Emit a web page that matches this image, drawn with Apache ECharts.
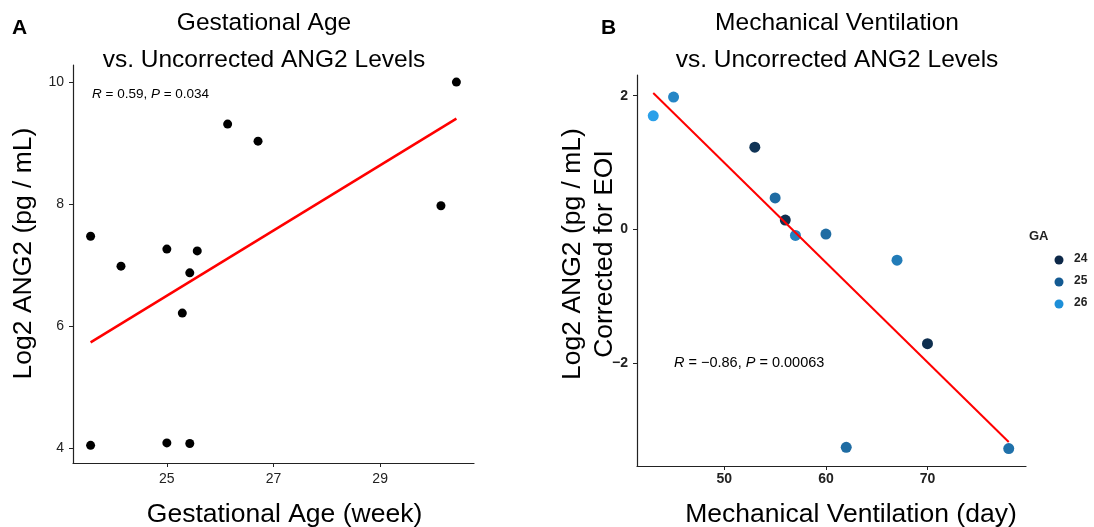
<!DOCTYPE html>
<html>
<head>
<meta charset="utf-8">
<script src="https://cdn.jsdelivr.net/npm/echarts@6/dist/echarts.min.js"></script>
<style>
  html, body { margin: 0; padding: 0; background: #fff; }
  #chart { width: 1094px; height: 527px; }
</style>
</head>
<body>
<div id="chart"></div>
<script>
// panel A: gestational age vs uncorrected ANG2
const gaWeeks = [23.57, 23.57, 24.14, 25.0, 25.0, 25.29, 25.43, 25.43, 25.57, 26.14, 26.71, 30.14, 30.43];
const ang2Log = [7.47, 4.04, 6.98, 7.26, 4.08, 6.21, 6.87, 4.07, 7.23, 9.31, 9.03, 7.97, 10.0];
const fitAX = [23.57, 30.43];
const fitAY = [5.73, 9.40];
const ticksAX = [25, 27, 29];
const ticksAY = [4, 6, 8, 10];

// panel B: mechanical ventilation vs corrected ANG2, coloured by GA
const mvDays = [43, 45, 53, 55, 56, 57, 60, 62, 67, 70, 78];
const ang2Corr = [1.70, 1.98, 1.23, 0.47, 0.14, -0.09, -0.07, -3.26, -0.46, -1.71, -3.28];
const gaGroup = [26.1, 25.6, 24.0, 25.1, 23.9, 25.5, 25.1, 25.1, 25.4, 23.9, 25.2];
const fitBX = [43, 78];
const fitBY = [2.04, -3.18];
const ticksBX = [50, 60, 70];
const ticksBY = [-2, 0, 2];
const legendGA = ['24', '25', '26'];

const FONT = '"Liberation Sans", Arial, sans-serif';
const gaColors = ['#0a1a33', '#2eaaf7'];
const legendColors = ['#0d2848', '#135a92', '#1d8fd8'];

const chart = echarts.init(document.getElementById('chart'));

function minus(v) {
    return v < 0 ? '\u2212' + Math.abs(v) : String(v);
}

function axisCommon(ticks, bold, labelMargin, namePad) {
    return {
        axisLine: { show: true, onZero: false, lineStyle: { color: '#222', width: 1.2 } },
        axisTick: { show: true, length: 4, customValues: ticks, lineStyle: { color: '#222', width: 1 } },
        axisLabel: {
            customValues: ticks, fontSize: 14, color: '#222', fontFamily: FONT, margin: labelMargin,
            fontWeight: bold ? 'bold' : 'normal', formatter: minus
        },
        splitLine: { show: false },
        nameLocation: 'middle',
        nameMoveOverlap: false,
        nameTextStyle: { fontSize: 26.5, color: '#000', fontFamily: FONT, lineHeight: 32, padding: namePad }
    };
}

function anno(size) {
    return {
        fontSize: size, fill: '#000', fontFamily: FONT,
        rich: { i: { fontStyle: 'italic', fontSize: size, fontFamily: FONT } }
    };
}

const legendItems = [];
legendItems.push({ type: 'text', x: 1029, y: 230, style: { text: 'GA', fontSize: 13, fontWeight: 'bold', fill: '#222', fontFamily: FONT } });
legendGA.forEach(function (lbl, i) {
    const cy = 260 + i * 22;
    legendItems.push({ type: 'circle', shape: { cx: 1059, cy: cy, r: 4.5 }, style: { fill: legendColors[i] } });
    legendItems.push({ type: 'text', x: 1074, y: cy - 7, style: { text: lbl, fontSize: 12, fontWeight: 'bold', fill: '#222', fontFamily: FONT } });
});

const titleStyle = { fontSize: 24.5, fontWeight: 'normal', color: '#000', lineHeight: 37, fontFamily: FONT };

const option = {
    animation: false,
    backgroundColor: '#fff',
    title: [
        {
            text: 'Gestational Age\nvs. Uncorrected ANG2 Levels',
            left: 264, top: 5, textAlign: 'center', padding: 0, textStyle: titleStyle
        },
        {
            text: 'Mechanical Ventilation\nvs. Uncorrected ANG2 Levels',
            left: 837, top: 5, textAlign: 'center', padding: 0, textStyle: titleStyle
        }
    ],
    grid: [
        { left: 73, top: 65, width: 401, height: 398, outerBoundsMode: 'none', containLabel: false },
        { left: 637, top: 75, width: 389, height: 391, outerBoundsMode: 'none', containLabel: false }
    ],
    visualMap: {
        show: false,
        type: 'continuous',
        seriesIndex: 2,
        dimension: 2,
        min: 23.5,
        max: 26.3,
        inRange: { color: gaColors }
    },
    xAxis: [
        Object.assign(axisCommon(ticksAX, false, 9, [0, 0, 0, 22]), {
            type: 'value', gridIndex: 0, min: 23.24, max: 30.76,
            name: 'Gestational Age (week)', nameGap: 36
        }),
        Object.assign(axisCommon(ticksBX, true, 6, [0, 0, 0, 39]), {
            type: 'value', gridIndex: 1, min: 41.4, max: 79.7,
            name: 'Mechanical Ventilation (day)', nameGap: 33
        })
    ],
    yAxis: [
        Object.assign(axisCommon(ticksAY, false, 9, [0, 0, 0, 21]), {
            type: 'value', gridIndex: 0, min: 3.75, max: 10.28,
            name: 'Log2 ANG2 (pg / mL)', nameGap: 33.5
        }),
        Object.assign(axisCommon(ticksBY, true, 9, [0, 0, 0, 33]), {
            type: 'value', gridIndex: 1, min: -3.54, max: 2.31,
            name: 'Log2 ANG2 (pg / mL)\nCorrected for EOI', nameGap: 16
        })
    ],
    series: [
        {
            type: 'scatter', xAxisIndex: 0, yAxisIndex: 0,
            symbolSize: 9, itemStyle: { color: '#000', opacity: 1 },
            data: gaWeeks.map(function (x, i) { return [x, ang2Log[i]]; })
        },
        {
            type: 'line', xAxisIndex: 0, yAxisIndex: 0, symbol: 'none',
            lineStyle: { color: '#ff0000', width: 2.5 },
            data: fitAX.map(function (x, i) { return [x, fitAY[i]]; })
        },
        {
            type: 'scatter', xAxisIndex: 1, yAxisIndex: 1,
            symbolSize: 11, itemStyle: { opacity: 1 },
            data: mvDays.map(function (x, i) { return [x, ang2Corr[i], gaGroup[i]]; })
        },
        {
            type: 'line', xAxisIndex: 1, yAxisIndex: 1, symbol: 'none',
            lineStyle: { color: '#ff0000', width: 2 },
            data: fitBX.map(function (x, i) { return [x, fitBY[i]]; })
        }
    ],
    graphic: [
        { type: 'text', x: 12, y: 18, style: { text: 'A', fontSize: 21, fontWeight: 'bold', fill: '#000', fontFamily: FONT } },
        { type: 'text', x: 601, y: 18, style: { text: 'B', fontSize: 21, fontWeight: 'bold', fill: '#000', fontFamily: FONT } },
        { type: 'text', x: 92, y: 87, style: Object.assign({ text: '{i|R} = 0.59, {i|P} = 0.034' }, anno(13.5)) },
        { type: 'text', x: 674, y: 355, style: Object.assign({ text: '{i|R} = \u22120.86, {i|P} = 0.00063' }, anno(14.5)) }
    ].concat(legendItems)
};

chart.setOption(option);
</script>
</body>
</html>
